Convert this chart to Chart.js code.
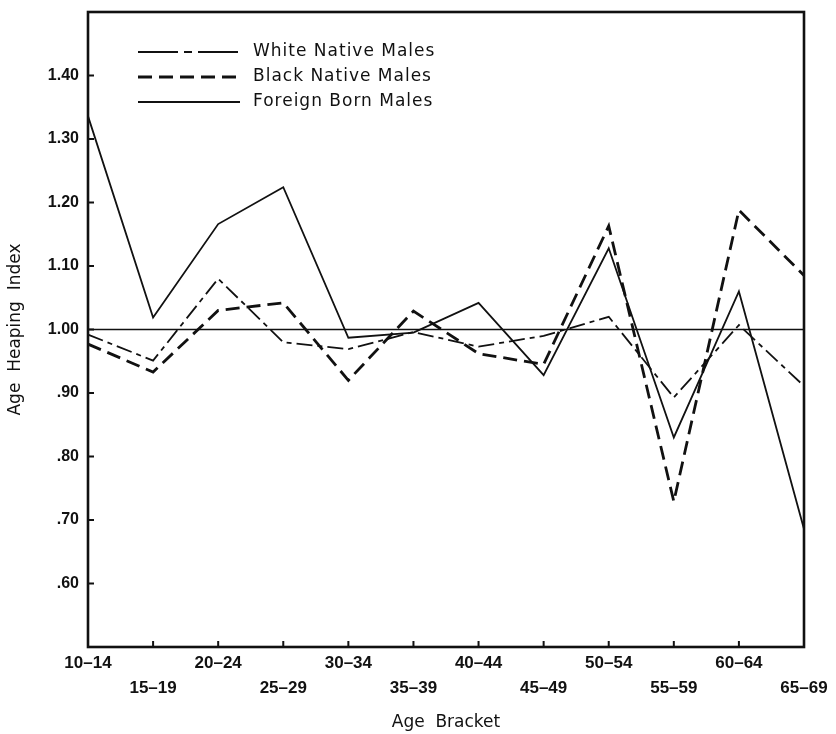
<!DOCTYPE html>
<html>
<head>
<meta charset="utf-8">
<script src="https://cdn.jsdelivr.net/npm/chart.js@4"></script>
<style>
  body { margin: 0; background: #fff; }
  #wrap { width: 836px; height: 734px; position: relative; }
</style>
</head>
<body>
<div id="wrap"><canvas id="heaping"></canvas></div>
<script>
// age brackets along the bottom
const categories = ['10–14', '15–19', '20–24', '25–29', '30–34', '35–39',
                    '40–44', '45–49', '50–54', '55–59', '60–64', '65–69'];

// values
const whiteNative = [0.992, 0.951, 1.080, 0.980, 0.969, 0.996, 0.973, 0.990, 1.020, 0.893, 1.007, 0.911];
const blackNative = [0.977, 0.933, 1.030, 1.042, 0.920, 1.029, 0.962, 0.945, 1.163, 0.729, 1.188, 1.085];
const foreignBorn = [1.336, 1.019, 1.166, 1.224, 0.987, 0.995, 1.042, 0.928, 1.128, 0.830, 1.060, 0.686];

const yTickValues = [0.6, 0.7, 0.8, 0.9, 1.0, 1.1, 1.2, 1.3, 1.4];
const yTickLabels = ['.60', '.70', '.80', '.90', '1.00', '1.10', '1.20', '1.30', '1.40'];
const referenceLevel = 1.0;

const ink = '#111';

// frame, inward ticks, the 1.00 line and the legend box inside the plot
const decorations = {
  id: 'decorations',
  beforeDatasetsDraw(chart) {
    const {ctx, chartArea: a, scales: {y}} = chart;
    const yy = y.getPixelForValue(referenceLevel);
    ctx.save();
    ctx.strokeStyle = ink;
    ctx.lineWidth = 1.4;
    ctx.beginPath();
    ctx.moveTo(a.left, yy);
    ctx.lineTo(a.right, yy);
    ctx.stroke();
    ctx.restore();
  },
  afterDraw(chart) {
    const {ctx, chartArea: a, scales: {x, y}} = chart;
    ctx.save();
    ctx.strokeStyle = ink;
    ctx.lineWidth = 2.6;
    ctx.strokeRect(a.left, a.top, a.right - a.left, a.bottom - a.top);

    ctx.lineWidth = 2;
    ctx.beginPath();
    categories.forEach((c, i) => {
      const px = x.getPixelForValue(i);
      ctx.moveTo(px, a.bottom);
      ctx.lineTo(px, a.bottom - 6);
    });
    yTickValues.forEach(v => {
      const py = y.getPixelForValue(v);
      ctx.moveTo(a.left, py);
      ctx.lineTo(a.left + 6, py);
    });
    ctx.stroke();

    // legend
    const rows = chart.data.datasets;
    ctx.font = '17px "DejaVu Sans"';
    ctx.letterSpacing = '1px';
    ctx.textBaseline = 'middle';
    ctx.fillStyle = ink;
    rows.forEach((ds, i) => {
      const ly = a.top + 40 + i * 25;
      ctx.beginPath();
      ctx.setLineDash(ds.legendDash);
      ctx.lineWidth = ds.borderWidth;
      ctx.moveTo(a.left + 50, ly);
      ctx.lineTo(a.left + 152, ly);
      ctx.stroke();
      ctx.setLineDash([]);
      ctx.fillText(ds.label, a.left + 165, ly);
    });
    ctx.restore();
  }
};

new Chart(document.getElementById('heaping'), {
  type: 'line',
  data: {
    labels: categories,
    datasets: [
      {
        label: 'White Native Males',
        data: whiteNative,
        borderColor: ink,
        borderWidth: 1.8,
        borderDash: [16, 5, 5, 5],
        legendDash: [40, 6, 8, 6]
      },
      {
        label: 'Black Native Males',
        data: blackNative,
        borderColor: ink,
        borderWidth: 2.8,
        borderDash: [14, 7],
        legendDash: [14, 7]
      },
      {
        label: 'Foreign Born Males',
        data: foreignBorn,
        borderColor: ink,
        borderWidth: 1.8,
        borderDash: [],
        legendDash: []
      }
    ]
  },
  options: {
    responsive: true,
    maintainAspectRatio: false,
    animation: false,
    layout: { padding: { left: 0, top: 12, right: 32, bottom: 0 } },
    elements: {
      point: { radius: 0 },
      line: { tension: 0, fill: false }
    },
    plugins: {
      legend: { display: false },
      tooltip: { enabled: false }
    },
    scales: {
      x: {
        offset: false,
        grid: { display: false, drawTicks: false },
        border: { display: false },
        afterFit(scale) { scale.height = 87; },
        ticks: {
          autoSkip: false,
          maxRotation: 0,
          padding: 4,
          color: ink,
          font: { family: '"Liberation Sans"', size: 17, weight: 'bold', lineHeight: 1.47 },
          callback(value, index) {
            const lab = categories[index];
            return index % 2 === 0 ? [lab, ''] : ['', lab];
          }
        },
        title: {
          display: true,
          text: 'Age  Bracket',
          color: ink,
          font: { family: '"DejaVu Sans"', size: 17 },
          padding: { top: 0, bottom: 1 }
        }
      },
      y: {
        min: 0.5,
        max: 1.5,
        grid: { display: false, drawTicks: false },
        border: { display: false },
        afterFit(scale) {
          scale.width = 88;
          scale.paddingTop = 0;
          scale.paddingBottom = 0;
        },
        afterBuildTicks(scale) {
          scale.ticks = yTickValues.map(v => ({ value: v }));
        },
        ticks: {
          padding: 9,
          color: ink,
          font: { family: '"Liberation Sans"', size: 16, weight: 'bold' },
          callback(value) {
            const i = yTickValues.findIndex(v => Math.abs(v - value) < 1e-6);
            return i >= 0 ? yTickLabels[i] : '';
          }
        },
        title: {
          display: true,
          text: 'Age  Heaping  Index',
          color: ink,
          font: { family: '"DejaVu Sans"', size: 17 },
          padding: { top: 5, bottom: 0 }
        }
      }
    }
  },
  plugins: [decorations]
});
</script>
</body>
</html>
